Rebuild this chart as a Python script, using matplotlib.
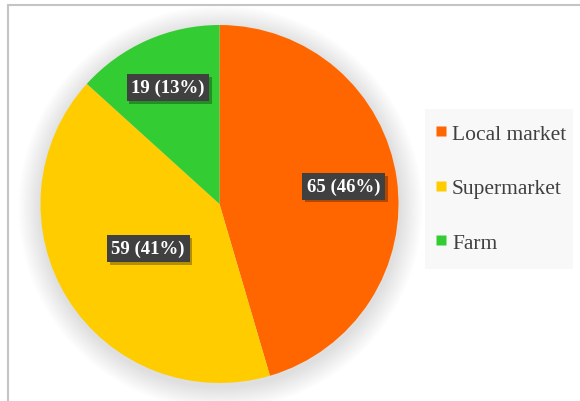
import numpy as np
import matplotlib
matplotlib.use("Agg")
import matplotlib.pyplot as plt
import matplotlib.patheffects as pe
from matplotlib.lines import Line2D
from matplotlib.patches import Circle, Rectangle

# data
categories = ["Local market", "Supermarket", "Farm"]
values = [65, 59, 19]
percents = [46, 41, 13]  # as printed on the chart
colors = ["#FF6600", "#FFCC00", "#33CC33"]
# radial placement of each data label (fraction of radius)
label_dist = [0.70, 0.47, 0.71]

W, H = 580, 402
fig = plt.figure(figsize=(W / 100, H / 100), dpi=100)
fig.patch.set_facecolor("white")

# chart frame (only top and left edge visible in the crop)
fig.add_artist(Rectangle((8 / W, -0.2), 1.2, (H - 6) / H + 0.2,
                         transform=fig.transFigure, fill=False,
                         ec="#c4c4c4", lw=1.5))

cx, cy, r = 219.5, 197, 179
ax = fig.add_axes([(cx - r) / W, (cy - r) / H, 2 * r / W, 2 * r / H])
ax.set_xlim(-1, 1)
ax.set_ylim(-1, 1)
ax.set_aspect("equal")
ax.axis("off")

# soft shadow around the pie
for k in range(16):
    ax.add_patch(Circle((0.005, -0.02), 1.0 + 0.008 * (16 - k), fc="black",
                        alpha=0.009, ec="none", clip_on=False, zorder=0))

wedges, _ = ax.pie(values, colors=colors, startangle=90, counterclock=False,
                   radius=1.0, wedgeprops=dict(lw=0), frame=False)
ax.set_xlim(-1, 1)
ax.set_ylim(-1, 1)

for w, v, p, d in zip(wedges, values, percents, label_dist):
    mid = np.deg2rad((w.theta1 + w.theta2) / 2)
    t = ax.text(d * np.cos(mid), d * np.sin(mid), f"{v} ({p}%)",
                ha="center", va="center", color="white", fontsize=13.5,
                fontweight="bold", family="Liberation Serif", zorder=5,
                bbox=dict(boxstyle="square,pad=0.25", fc="#404040", ec="none"))
    t.get_bbox_patch().set_path_effects([
        pe.SimplePatchShadow(offset=(2, -2), shadow_rgbFace="black", alpha=0.3),
        pe.Normal()])

handles = [Line2D([], [], ls="none", marker="s", markersize=7.5,
                  markerfacecolor=c, markeredgecolor="none") for c in colors]
fig.add_artist(Rectangle((425 / W, (H - 270) / H), 148 / W, 160 / H,
                         transform=fig.transFigure, fc="#f8f8f8", ec="none"))
leg = fig.legend(handles, categories, loc="center left",
                 bbox_to_anchor=(424 / W, (H - 189) / H),
                 bbox_transform=fig.transFigure, frameon=False,
                 prop=dict(family="Liberation Serif", size=15.5),
                 handlelength=0.6, handletextpad=0.2, labelspacing=1.6,
                 borderpad=0)
for txt in leg.get_texts():
    txt.set_color("#404040")

fig.savefig("out.png", dpi=100)
